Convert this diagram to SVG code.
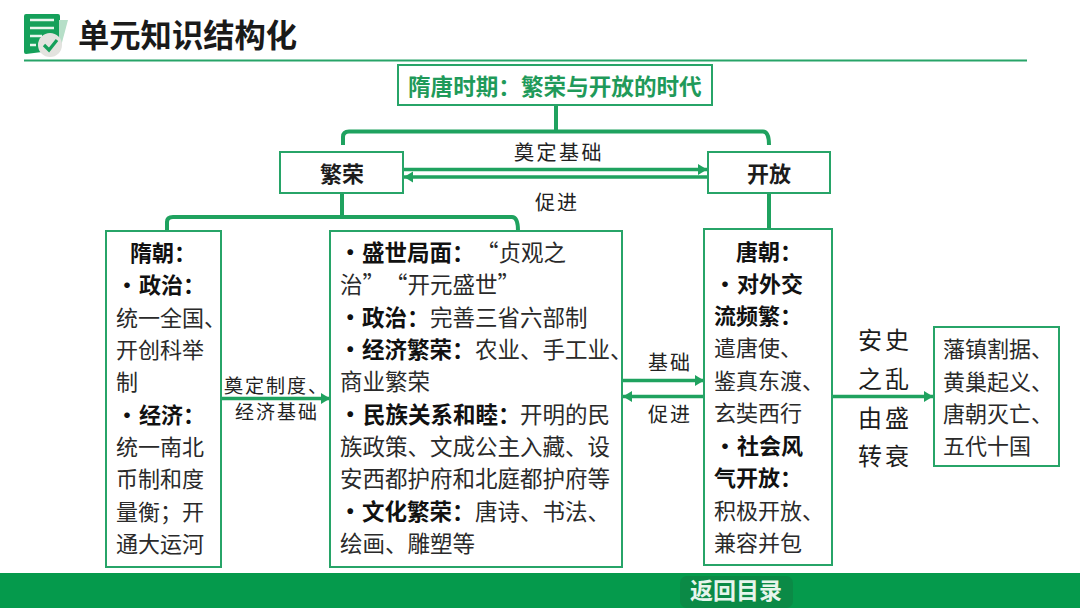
<svg xmlns="http://www.w3.org/2000/svg" width="1080" height="608" viewBox="0 0 1080 608">
<style>
text{font-family:"Noto Sans CJK SC","Noto Sans",sans-serif;fill:#1c1c1c}
.b{font-size:22px;font-weight:400;fill:#2a2a2a}
.m{font-size:22.500px}
.h{font-weight:700;fill:#111}
.l{font-size:20px;font-weight:400;fill:#222;letter-spacing:2px}
.box{fill:#fff;stroke:#27a468;stroke-width:2}
.c{fill:none;stroke:#1fa25f;stroke-width:4}
.a{fill:none;stroke:#1fa25f;stroke-width:3.500}
</style>
<defs>
<marker id="ah" markerUnits="userSpaceOnUse" markerWidth="10" markerHeight="12" refX="9" refY="5.500" orient="auto"><path d="M0 0L9 5.500L0 11Z" fill="#1fa25f"/></marker>
</defs>
<rect width="1080" height="608" fill="#fff"/>
<g id="header">
<path d="M24 16a2 2 0 0 1 2-2H58a2 2 0 0 1 2 2V48a2 2 0 0 1-2 2l-32 4a2 2 0 0 1-2-2Z" fill="#15a05a"/>
<path d="M59 20H68L60 50H59Z" fill="#b6dfc8"/>
<path d="M30 20H54M30 28H54M30 36H42M30 45H36" stroke="#e8f6ee" stroke-width="2.500" fill="none"/>
<circle cx="50" cy="45" r="12" fill="#e3e3df"/>
<path d="M44 45L49 50L57 40" stroke="#15a05a" stroke-width="3.200" fill="none"/>
<text x="78" y="47" style="font-size:31.300px;font-weight:700;fill:#1a1a1a">单元知识结构化</text>
<rect x="24" y="59.500" width="1003" height="2" fill="#27a468"/>
</g>
<g id="connectors">
<path class="c" d="M556 105V131.500M343 145V137Q343 131.500 349 131.500H763Q769 131.500 769 145"/>
<path class="c" d="M342 192V217M167 231V222Q167 217 173 217H512Q518 217 518 231"/>
<path class="c" d="M769 193V229"/>
<path class="a" d="M403 169.500H707" marker-end="url(#ah)"/>
<path class="a" d="M707 177H404" marker-end="url(#ah)"/>
<path class="a" d="M221 398.500H330" marker-end="url(#ah)"/>
<path class="a" d="M622 380.500H704" marker-end="url(#ah)"/>
<path class="a" d="M704 396.500H623" marker-end="url(#ah)"/>
<path class="a" d="M832 396.500H933" marker-end="url(#ah)"/>
</g>
<g id="node-title"><rect class="box" x="398" y="65" width="314" height="40"/>
<text x="408" y="95" style="font-size:22.600px;font-weight:700;fill:#1f9a5a">隋唐时期：繁荣与开放的时代</text></g>
<g id="node-fanrong"><rect class="box" x="280" y="152" width="123" height="41"/>
<text x="342" y="182" text-anchor="middle" style="font-size:22px;font-weight:700">繁荣</text></g>
<g id="node-kaifang"><rect class="box" x="708" y="152" width="122" height="41"/>
<text x="769" y="182" text-anchor="middle" style="font-size:22px;font-weight:700">开放</text></g>
<g id="node-sui"><rect class="box" x="106" y="231" width="115" height="336"/>
<text class="b">
<tspan class="h" x="130" y="261">隋朝：</tspan>
<tspan class="h" x="116" y="293">·</tspan><tspan class="h" x="139" y="293">政治：</tspan>
<tspan x="116" y="326">统一全国、</tspan>
<tspan x="116" y="358">开创科举</tspan>
<tspan x="116" y="390">制</tspan>
<tspan class="h" x="116" y="423">·</tspan><tspan class="h" x="139" y="423">经济：</tspan>
<tspan x="116" y="455">统一南北</tspan>
<tspan x="116" y="487">币制和度</tspan>
<tspan x="116" y="520">量衡；开</tspan>
<tspan x="116" y="552">通大运河</tspan>
</text></g>
<g id="node-center"><rect class="box" x="330" y="231" width="292" height="336"/>
<text class="b m">
<tspan class="h" x="339" y="261">·</tspan><tspan class="h" x="362" y="261">盛世局面：</tspan><tspan x="476" y="261">“贞观之</tspan>
<tspan x="340" y="293">治”</tspan><tspan x="385" y="293">“开元盛世”</tspan>
<tspan class="h" x="339" y="326">·</tspan><tspan class="h" x="362" y="326">政治：</tspan><tspan x="430" y="326">完善三省六部制</tspan>
<tspan class="h" x="339" y="358">·</tspan><tspan class="h" x="362" y="358">经济繁荣：</tspan><tspan x="475" y="358">农业、手工业、</tspan>
<tspan x="340" y="390">商业繁荣</tspan>
<tspan class="h" x="339" y="423">·</tspan><tspan class="h" x="363" y="423">民族关系和睦：</tspan><tspan x="520" y="423">开明的民</tspan>
<tspan x="340" y="455">族政策、文成公主入藏、设</tspan>
<tspan x="340" y="487">安西都护府和北庭都护府等</tspan>
<tspan class="h" x="339" y="520">·</tspan><tspan class="h" x="362" y="520">文化繁荣：</tspan><tspan x="475" y="520">唐诗、书法、</tspan>
<tspan x="340" y="552">绘画、雕塑等</tspan>
</text></g>
<g id="node-tang"><rect class="box" x="704" y="229" width="128" height="336"/>
<text class="b">
<tspan class="h" x="736" y="260">唐朝：</tspan>
<tspan class="h" x="714" y="292">·</tspan><tspan class="h" x="737" y="292">对外交</tspan>
<tspan class="h" x="714" y="324">流频繁：</tspan>
<tspan x="714" y="356">遣唐使、</tspan>
<tspan x="714" y="389">鉴真东渡、</tspan>
<tspan x="714" y="421">玄奘西行</tspan>
<tspan class="h" x="714" y="454">·</tspan><tspan class="h" x="737" y="454">社会风</tspan>
<tspan class="h" x="714" y="486">气开放：</tspan>
<tspan x="714" y="519">积极开放、</tspan>
<tspan x="714" y="551">兼容并包</tspan>
</text></g>
<g id="node-end"><rect class="box" x="934" y="327" width="125" height="139"/>
<text class="b">
<tspan x="943" y="357">藩镇割据、</tspan>
<tspan x="943" y="390">黄巢起义、</tspan>
<tspan x="943" y="422">唐朝灭亡、</tspan>
<tspan x="943" y="454">五代十国</tspan>
</text></g>
<g id="labels">
<text class="l" x="514" y="160" style="letter-spacing:2.500px">奠定基础</text>
<text class="l" x="535" y="210">促进</text>
<text class="l" x="224" y="393" style="font-size:19px">奠定制度、</text>
<text class="l" x="235" y="419" style="font-size:19px">经济基础</text>
<text class="l" x="648" y="370">基础</text>
<text class="l" x="648" y="422">促进</text>
<text x="858" y="349" style="font-size:24px;letter-spacing:3px">安史</text>
<text x="858" y="388" style="font-size:24px;letter-spacing:3px">之乱</text>
<text x="858" y="427" style="font-size:24px;letter-spacing:3px">由盛</text>
<text x="858" y="465" style="font-size:24px;letter-spacing:3px">转衰</text>
</g>
<g id="footer">
<rect x="0" y="573" width="1080" height="35" fill="#059a4c"/>
<rect x="680" y="576" width="113" height="32" rx="7" fill="#0b8a46"/>
<text x="736" y="599" text-anchor="middle" style="font-size:23px;font-weight:700;fill:#e6f5ec">返回目录</text>
</g>
</svg>
